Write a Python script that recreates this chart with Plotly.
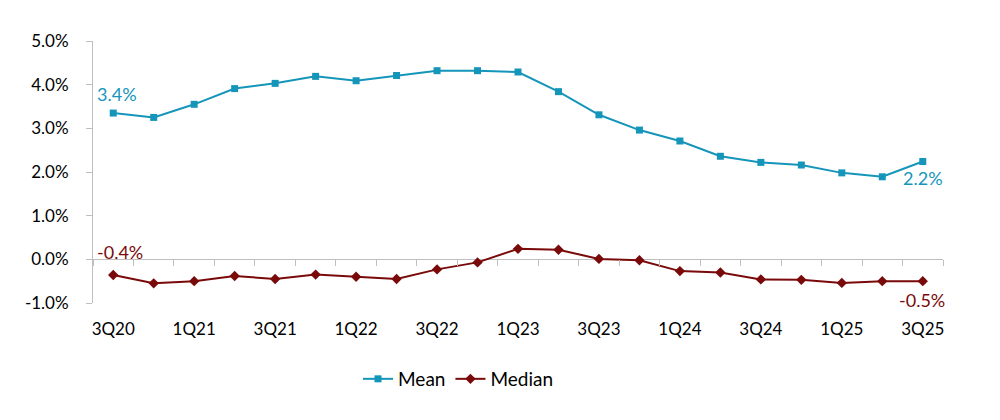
import plotly.graph_objects as go

quarters = ["3Q20", "4Q20", "1Q21", "2Q21", "3Q21", "4Q21", "1Q22", "2Q22", "3Q22", "4Q22",
            "1Q23", "2Q23", "3Q23", "4Q23", "1Q24", "2Q24", "3Q24", "4Q24", "1Q25", "2Q25", "3Q25"]
mean_vals = [3.35, 3.25, 3.55, 3.91, 4.03, 4.19, 4.09, 4.21, 4.32, 4.32,
             4.29, 3.84, 3.31, 2.96, 2.71, 2.36, 2.22, 2.16, 1.98, 1.89, 2.24]
median_vals = [-0.36, -0.55, -0.50, -0.38, -0.45, -0.35, -0.40, -0.45, -0.23, -0.07,
               0.24, 0.22, 0.01, -0.02, -0.27, -0.30, -0.46, -0.47, -0.54, -0.50, -0.50]
tick_labels = ["3Q20", "1Q21", "3Q21", "1Q22", "3Q22", "1Q23", "3Q23", "1Q24", "3Q24", "1Q25", "3Q25"]
y_ticks = [-1, 0, 1, 2, 3, 4, 5]

MEAN_C = "#1595BA"
MED_C = "#7A0A0A"
FONT = "Lato"

fig = go.Figure()
# invisible helper trace to draw category tick marks on the zero line
fig.add_trace(go.Scatter(x=quarters, y=median_vals, xaxis="x2", yaxis="y2", mode="lines",
                         line=dict(width=0), opacity=0, showlegend=False, hoverinfo="skip"))
fig.add_trace(go.Scatter(x=quarters, y=mean_vals, name="Mean", mode="lines+markers",
                         line=dict(color=MEAN_C, width=2),
                         marker=dict(symbol="square", size=7, color=MEAN_C)))
fig.add_trace(go.Scatter(x=quarters, y=median_vals, name="Median", mode="lines+markers",
                         line=dict(color=MED_C, width=2),
                         marker=dict(symbol="diamond", size=8, color=MED_C)))

fig.update_layout(
    width=1000, height=420,
    margin=dict(l=85, r=65, t=33, b=125),
    plot_bgcolor="rgba(0,0,0,0)", paper_bgcolor="white",
    font=dict(family=FONT, size=17, color="#000000"),
    showlegend=True,
    legend=dict(orientation="h", x=0.43, xanchor="center", y=-0.29, yanchor="middle",
                font=dict(size=19, color="#000000"), itemwidth=30, tracegroupgap=0),
    xaxis=dict(type="category", categoryorder="array", categoryarray=quarters,
               range=[-0.5, 20.5], tickmode="array", tickvals=tick_labels, ticktext=tick_labels,
               showline=False, ticks="", showgrid=False, zeroline=False,
               ticklabelstandoff=14, tickfont=dict(size=17, color="#000000")),
    yaxis=dict(range=[-1, 5], tickvals=y_ticks, ticktext=[f"{v:.1f}%" for v in y_ticks],
               showgrid=False, zeroline=True, zerolinecolor="#BFBFBF", zerolinewidth=1,
               showline=True, linecolor="#BFBFBF", linewidth=1,
               ticks="outside", ticklen=6, tickcolor="#BFBFBF",
               ticklabelstandoff=14, tickfont=dict(size=17, color="#000000")),
    xaxis2=dict(type="category", categoryorder="array", categoryarray=quarters,
                range=[-0.5, 20.5], overlaying="x", anchor="y2", side="bottom",
                showline=False, ticks="outside", tickson="boundaries", ticklen=6,
                tickcolor="#BFBFBF", showticklabels=False, showgrid=False, zeroline=False),
    yaxis2=dict(domain=[1/6, 1], range=[-1, 5], visible=False, anchor="x2"),
)

annos = [
    dict(x=quarters[0], y=mean_vals[0], text="3.4%", color=MEAN_C, xs=4, ys=19),
    dict(x=quarters[0], y=median_vals[0], text="-0.4%", color=MED_C, xs=7, ys=23),
    dict(x=quarters[-1], y=mean_vals[-1], text="2.2%", color=MEAN_C, xs=0, ys=-16),
    dict(x=quarters[-1], y=median_vals[-1], text="-0.5%", color=MED_C, xs=-1, ys=-19),
]
for a in annos:
    fig.add_annotation(x=a["x"], y=a["y"], xref="x", yref="y", text=a["text"], showarrow=False,
                       xshift=a["xs"], yshift=a["ys"], font=dict(size=18, color=a["color"], family=FONT))

fig.write_html("out.html")
